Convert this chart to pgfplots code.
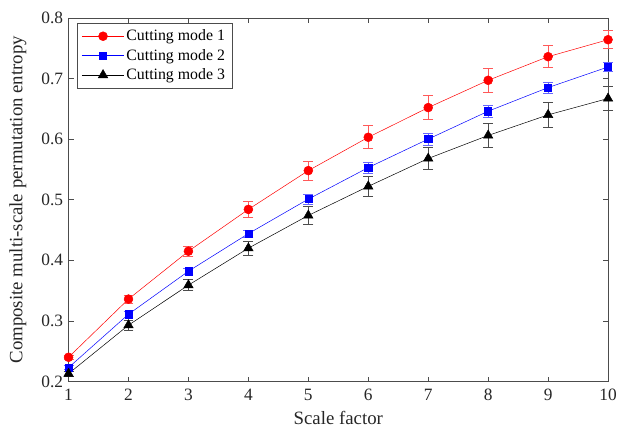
\documentclass[border=0pt]{standalone}
\usepackage{fontspec}
\setmainfont{Liberation Serif}
\usepackage{pgfplots}
\usepackage{pgfplotstable}
\pgfplotsset{compat=1.18}
\pgfplotstableread{
x y e
1 0.240 0.004
2 0.336 0.007
3 0.415 0.008
4 0.484 0.013
5 0.548 0.016
6 0.603 0.019
7 0.652 0.020
8 0.697 0.020
9 0.736 0.018
10 0.764 0.015
}\modeone
\pgfplotstableread{
x y e
1 0.223 0.003
2 0.311 0.005
3 0.382 0.005
4 0.444 0.006
5 0.501 0.008
6 0.553 0.009
7 0.600 0.010
8 0.646 0.010
9 0.685 0.009
10 0.719 0.007
}\modetwo
\pgfplotstableread{
x y e
1 0.213 0.004
2 0.293 0.008
3 0.359 0.009
4 0.420 0.011
5 0.474 0.015
6 0.522 0.016
7 0.568 0.018
8 0.606 0.020
9 0.640 0.021
10 0.667 0.020
}\modethree
\begin{document}
\begin{tikzpicture}
\begin{axis}[
  name=ax,
  scale only axis,
  width=543bp, height=366bp,
  xmin=1, xmax=10, ymin=0.2, ymax=0.8,
  xtick={1,...,10},
  ytick={0.2,0.3,0.4,0.5,0.6,0.7,0.8},
  yticklabel style={/pgf/number format/fixed, /pgf/number format/precision=1, xshift=-2bp},
  xticklabel style={yshift=-4bp},
  /pgf/number format/assume math mode=true,
  tick align=inside,
  tick pos=both,
  major tick length=5bp,
  axis line style={black!70, line width=0.5pt},
  tick style={black!70, line width=0.5pt},
  ticklabel style={font=\fontsize{17.5}{19}\selectfont, text=black!85},
  label style={font=\fontsize{19}{21}\selectfont, text=black!85},
  xlabel={Scale factor},
  ylabel={Composite multi-scale permutation entropy},
  xlabel style={at={(axis description cs:0.5,0)}, anchor=base, yshift=-43.5bp},
  ylabel style={at={(axis description cs:0,0.5)}, anchor=center, yshift=51bp},
  clip=false,
  legend cell align=left,
  legend style={at={(rel axis cs:0,1)}, xshift=8bp, yshift=-5bp, anchor=north west,
    font=\fontsize{16}{18}\selectfont,
    draw=black!70, inner xsep=5bp, inner ysep=5bp, row sep=3bp},
  legend image code/.code={\draw[mark repeat=2,mark phase=2] plot coordinates {(0cm,0cm) (0.75cm,0cm) (1.5cm,0cm)};},
]
\addplot[red, line width=0.5pt, mark=*, mark size=4.5bp, mark options={solid, fill=red},
  error bars/.cd, y dir=both, y explicit,
  error bar style={red!65, line width=0.7pt},
  error mark options={rotate=90, mark size=5bp, red!65, line width=0.7pt}]
  table[x=x, y=y, y error=e] {\modeone};
\addlegendentry{Cutting mode 1}
\addplot[blue, line width=0.5pt, mark=square*, mark size=3.6bp, mark options={solid, fill=blue},
  error bars/.cd, y dir=both, y explicit,
  error bar style={blue!60, line width=0.7pt},
  error mark options={rotate=90, mark size=5bp, blue!60, line width=0.7pt}]
  table[x=x, y=y, y error=e] {\modetwo};
\addlegendentry{Cutting mode 2}
\addplot[black, line width=0.5pt, mark=triangle*, mark size=5.5bp, mark options={solid, fill=black},
  error bars/.cd, y dir=both, y explicit,
  error bar style={black!70, line width=0.7pt},
  error mark options={rotate=90, mark size=5bp, black!70, line width=0.7pt}]
  table[x=x, y=y, y error=e] {\modethree};
\addlegendentry{Cutting mode 3}
\end{axis}
\path ([xshift=-69bp,yshift=-46bp]ax.south west) rectangle ([xshift=8bp,yshift=18bp]ax.north east);
\end{tikzpicture}
\end{document}
